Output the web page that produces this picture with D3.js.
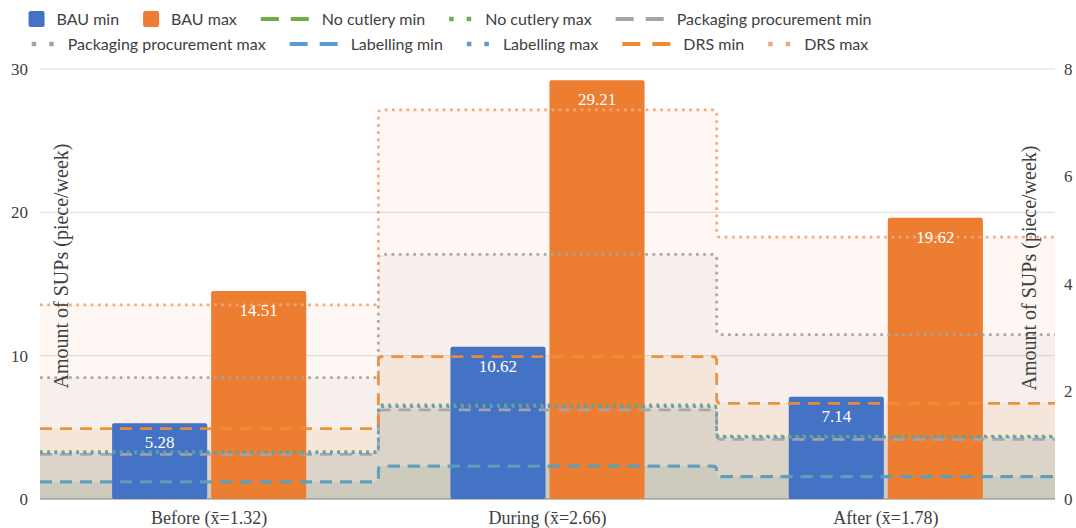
<!DOCTYPE html>
<html>
<head>
<meta charset="utf-8">
<script src="https://cdn.jsdelivr.net/npm/d3@7"></script>
<style>
  body { margin: 0; background: #fff; }
  svg { display: block; }
</style>
</head>
<body>
<div id="chart"></div>
<script>
// categories and values
const categories = ["Before (x\u0304=1.32)", "During (x\u0304=2.66)", "After (x\u0304=1.78)"];
const bauMin = [5.28, 10.62, 7.14];
const bauMax = [14.51, 29.21, 19.62];
// step lines, right axis (0-8)
const noCutleryMin = [0.32, 0.61, 0.42];
const noCutleryMax = [0.88, 1.75, 1.17];
const packagingMin = [0.83, 1.66, 1.11];
const packagingMax = [2.26, 4.55, 3.06];
const labellingMin = [0.32, 0.61, 0.41];
const labellingMax = [0.86, 1.72, 1.15];
const drsMin = [1.31, 2.65, 1.78];
const drsMax = [3.61, 7.24, 4.87];
const leftTicks = [0, 10, 20, 30];
const rightTicks = [0, 2, 4, 6, 8];
const axisTitle = "Amount of SUPs (piece/week)";

const width = 1076, height = 528;
const margin = {top: 69, right: 21, bottom: 29, left: 40};
const serif = "'Liberation Serif', 'DejaVu Serif', serif";
const sans = "Lato, 'Open Sans', sans-serif";

var svg = d3.select("#chart")
  .append("svg")
  .attr("width", width)
  .attr("height", height);

// scales
var x = d3.scaleBand()
  .domain(categories)
  .range([margin.left, width - margin.right])
  .padding(0);

var xInner = d3.scaleBand()
  .domain(["min", "max"])
  .range([0, x.bandwidth()])
  .paddingInner(0.04)
  .paddingOuter(0.728);

var yL = d3.scaleLinear().domain([0, 30]).range([height - margin.bottom, margin.top]);
var yR = d3.scaleLinear().domain([0, 8]).range([height - margin.bottom, margin.top]);

// gridlines
svg.append("g")
  .selectAll("line")
  .data(leftTicks.filter(d => d > 0))
  .enter()
  .append("line")
  .attr("x1", margin.left)
  .attr("x2", width - margin.right)
  .attr("y1", d => yL(d))
  .attr("y2", d => yL(d))
  .style("stroke", "#d9d9d9")
  .style("stroke-width", 1);

// left axis
svg.append("g")
  .attr("transform", "translate(" + (margin.left - 9) + ",0)")
  .call(d3.axisLeft(yL).tickValues(leftTicks).tickSize(0))
  .call(g => g.select(".domain").remove())
  .selectAll("text")
  .style("font-family", serif)
  .style("font-size", "17px")
  .style("fill", "#404040");

// right axis
svg.append("g")
  .attr("transform", "translate(" + (width - margin.right + 6) + ",0)")
  .call(d3.axisRight(yR).tickValues(rightTicks).tickSize(0))
  .call(g => g.select(".domain").remove())
  .selectAll("text")
  .style("font-family", serif)
  .style("font-size", "17px")
  .style("fill", "#404040");

// line series definitions
var lineSeries = [
  {name: "No cutlery min", values: noCutleryMin, color: "#70AD47", kind: "dash"},
  {name: "No cutlery max", values: noCutleryMax, color: "#70AD47", kind: "dot"},
  {name: "Packaging procurement min", values: packagingMin, color: "#A5A5A5", kind: "dash"},
  {name: "Packaging procurement max", values: packagingMax, color: "#A5A5A5", kind: "dot"},
  {name: "Labelling min", values: labellingMin, color: "#5B9BD5", kind: "dash"},
  {name: "Labelling max", values: labellingMax, color: "#5B9BD5", kind: "dot"},
  {name: "DRS min", values: drsMin, color: "#EE8C35", kind: "dash"},
  {name: "DRS max", values: drsMax, color: "#F4A777", kind: "dot"}
];

// step path with small rounded corners at category boundaries
function stepPath(vals, close) {
  var p = d3.path();
  var r = 4;
  var x0 = x.range()[0], x1 = x.range()[1];
  p.moveTo(x0, yR(vals[0]));
  for (var i = 1; i < vals.length; i++) {
    var bx = x(categories[i]);
    var ya = yR(vals[i - 1]), yb = yR(vals[i]);
    var dy = yb - ya, s = Math.sign(dy);
    var rr = Math.min(r, Math.abs(dy) / 2);
    if (rr < 0.5) { p.lineTo(bx, ya); p.lineTo(bx, yb); continue; }
    p.lineTo(bx - rr, ya);
    p.quadraticCurveTo(bx, ya, bx, ya + s * rr);
    p.lineTo(bx, yb - s * rr);
    p.quadraticCurveTo(bx, yb, bx + rr, yb);
  }
  p.lineTo(x1, yR(vals[vals.length - 1]));
  if (close) {
    p.lineTo(x1, yR(0));
    p.lineTo(x0, yR(0));
    p.closePath();
  }
  return p.toString();
}

// shaded areas under each step line
svg.append("g")
  .selectAll("path")
  .data(lineSeries)
  .enter()
  .append("path")
  .attr("d", d => stepPath(d.values, true))
  .style("fill", d => d.color)
  .style("fill-opacity", 0.085)
  .style("stroke", "none");

// baseline
svg.append("line")
  .attr("x1", margin.left)
  .attr("x2", width - margin.right)
  .attr("y1", yL(0))
  .attr("y2", yL(0))
  .style("stroke", "#808080")
  .style("stroke-width", 1.2);

// bars
var barData = [];
categories.forEach(function(c, i) {
  barData.push({cat: c, key: "min", value: bauMin[i], color: "#4472C4"});
  barData.push({cat: c, key: "max", value: bauMax[i], color: "#ED7D31"});
});

svg.append("g")
  .selectAll("rect")
  .data(barData)
  .enter()
  .append("rect")
  .attr("x", d => x(d.cat) + xInner(d.key))
  .attr("y", d => yL(d.value))
  .attr("width", xInner.bandwidth())
  .attr("height", d => yL(0) - yL(d.value))
  .attr("rx", 2)
  .style("fill", d => d.color);

// step lines on top
svg.append("g")
  .selectAll("path")
  .data(lineSeries)
  .enter()
  .append("path")
  .attr("d", d => stepPath(d.values, false))
  .style("fill", "none")
  .style("stroke", d => d.color)
  .style("stroke-width", 2.75)
  .style("stroke-dasharray", d => d.kind == "dash" ? "12,8" : "2.75,4.5")
  .style("stroke-opacity", 0.95);

// bar value labels
svg.append("g")
  .selectAll("text")
  .data(barData)
  .enter()
  .append("text")
  .attr("x", d => x(d.cat) + xInner(d.key) + xInner.bandwidth() / 2)
  .attr("y", d => yL(d.value) + 19)
  .attr("dy", "0.35em")
  .attr("text-anchor", "middle")
  .style("font-family", serif)
  .style("font-size", "17px")
  .style("fill", "#fff")
  .text(d => d.value.toFixed(2));

// category labels
svg.append("g")
  .selectAll("text")
  .data(categories)
  .enter()
  .append("text")
  .attr("x", d => x(d) + x.bandwidth() / 2)
  .attr("y", 524)
  .attr("text-anchor", "middle")
  .style("font-family", serif)
  .style("font-size", "18px")
  .style("fill", "#404040")
  .text(d => d);

// axis titles
svg.append("text")
  .attr("transform", "translate(68,266) rotate(-90)")
  .attr("text-anchor", "middle")
  .style("font-family", serif)
  .style("font-size", "20px")
  .style("fill", "#404040")
  .text(axisTitle);

svg.append("text")
  .attr("transform", "translate(1036,268) rotate(-90)")
  .attr("text-anchor", "middle")
  .style("font-family", serif)
  .style("font-size", "20px")
  .style("fill", "#404040")
  .text(axisTitle);

// legend
var legendItems = [
  {name: "BAU min", color: "#4472C4", kind: "box"},
  {name: "BAU max", color: "#ED7D31", kind: "box"}
].concat(lineSeries);

var rows = [legendItems.slice(0, 5), legendItems.slice(5)];
var rowY = [19, 44];
var symW = {box: 16, dash: 48, dot: 22};
var symGap = {box: 12, dash: 13, dot: 14};

rows.forEach(function(items, ri) {
  var row = svg.append("g");
  var cursor = 0;
  items.forEach(function(it) {
    var g = row.append("g").attr("transform", "translate(" + cursor + "," + rowY[ri] + ")");
    if (it.kind == "box") {
      g.append("rect").attr("x", 0).attr("y", -8).attr("width", 16).attr("height", 16)
        .attr("rx", 2).style("fill", it.color);
    } else if (it.kind == "dash") {
      g.append("line").attr("x1", 0).attr("x2", 48).attr("y1", 0).attr("y2", 0)
        .style("stroke", it.color).style("stroke-width", 4).style("stroke-dasharray", "18,12");
    } else {
      g.append("line").attr("x1", 0).attr("x2", 22).attr("y1", 0).attr("y2", 0)
        .style("stroke", it.color).style("stroke-width", 4.5).style("stroke-dasharray", "4.5,13");
    }
    var t = g.append("text")
      .attr("x", symW[it.kind] + symGap[it.kind])
      .attr("dy", "0.35em")
      .style("font-family", sans)
      .style("font-size", "16px")
      .style("fill", "#404040")
      .text(it.name);
    cursor += symW[it.kind] + symGap[it.kind] + t.node().getComputedTextLength() + 24;
  });
  var total = cursor - 24;
  row.attr("transform", "translate(" + (450 - total / 2) + ",0)");
});
</script>
</body>
</html>
